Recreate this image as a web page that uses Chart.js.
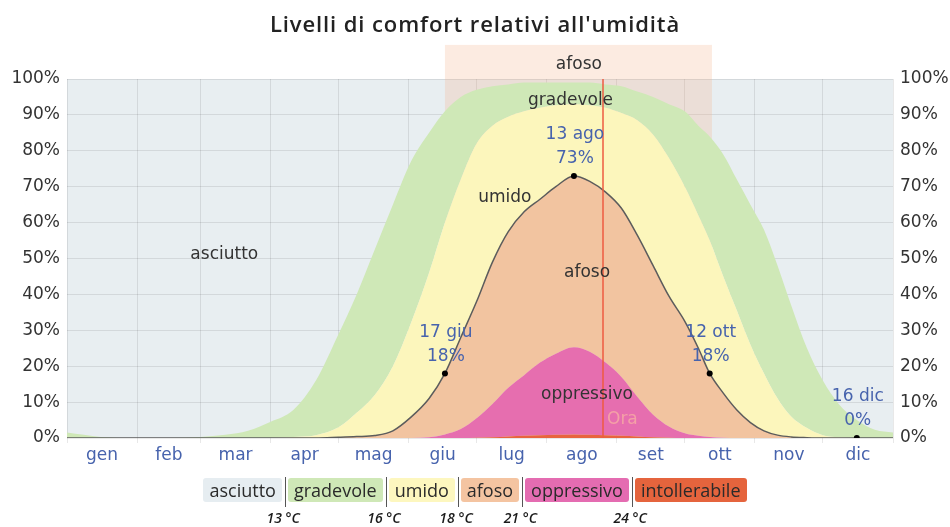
<!DOCTYPE html>
<html lang="it">
<head>
  <meta charset="UTF-8">
  <title>Livelli di comfort relativi all'umidità</title>
  <script src="https://cdn.jsdelivr.net/npm/chart.js"></script>
  <style>
    body {
      margin: 0;
      background: #fff;
    }

    .wrap {
      position: relative;
      width: 950px;
      height: 527px;
    }

    .titolo {
      position: absolute;
      top: 9px;
      left: 0;
      width: 950px;
      text-align: center;
      font-family: 'Open Sans', sans-serif;
      font-size: 22px;
      font-weight: 600;
      letter-spacing: 0.9px;
      line-height: 28px;
      color: #222;
    }

    .legenda {
      position: absolute;
      top: 478px;
      left: 0;
      width: 950px;
      display: flex;
      justify-content: center;
      align-items: flex-start;
      font-family: 'Open Sans', sans-serif;
      font-size: 18px;
      color: #2a2a2a;
    }

    .voce {
      line-height: 24px;
      padding: 0 6px;
      border-radius: 3px;
    }

    .sep {
      position: relative;
      width: 1px;
      height: 30px;
      margin: -1px 2px 0 3px;
      background: #555;
    }

    .sep i {
      position: absolute;
      top: 31px;
      left: 0;
      transform: translateX(-55%);
      font-size: 14px;
      font-weight: 600;
      white-space: nowrap;
      color: #1a1a1a;
    }
  </style>
</head>

<body>
  <div class="wrap">
    <canvas id="grafico"></canvas>
    <div class="titolo">Livelli di comfort relativi all'umidità</div>
    <div class="legenda">
      <span class="voce" style="background:#e6edf1">asciutto</span>
      <span class="sep"><i>13 °C</i></span>
      <span class="voce" style="background:#cfe8b7">gradevole</span>
      <span class="sep"><i>16 °C</i></span>
      <span class="voce" style="background:#fdf7bf">umido</span>
      <span class="sep"><i>18 °C</i></span>
      <span class="voce" style="background:#f4c4a1">afoso</span>
      <span class="sep"><i>21 °C</i></span>
      <span class="voce" style="background:#e46cb1">oppressivo</span>
      <span class="sep"><i>24 °C</i></span>
      <span class="voce" style="background:#e5643d">intollerabile</span>
    </div>
  </div>

  <script>
    // giorno dell'anno (0 = 1 gen) per ogni campione
    const giorni = [0, 15, 31, 45, 59, 70, 80, 90, 100, 110, 120, 128, 136, 144, 152, 160, 167, 174, 181, 188,
      195, 202, 209, 216, 224, 231, 238, 245, 252, 259, 266, 273, 279, 284, 290, 296, 302, 308, 314, 320,
      327, 334, 341, 349, 357, 365];

    // percentuale cumulata: quota di tempo almeno a quel livello di umidità
    const intollerabile = [0, 0, 0, 0, 0, 0, 0, 0, 0, 0, 0, 0, 0, 0, 0, 0, 0, 0, 0.1, 0.2,
      0.4, 0.6, 0.8, 0.9, 1, 0.9, 0.8, 0.6, 0.4, 0.2, 0.1, 0, 0, 0, 0, 0, 0, 0, 0, 0,
      0, 0, 0, 0, 0, 0];
    const oppressivo = [0, 0, 0, 0, 0, 0, 0, 0, 0, 0, 0, 0, 0, 0, 0, 0.2, 1, 2.5, 5.5, 9.5,
      14, 17.5, 21, 23.5, 25.3, 24, 21, 17, 11.5, 6.5, 3.2, 1.3, 0.6, 0.3, 0.1, 0, 0, 0, 0, 0,
      0, 0, 0, 0, 0, 0];
    const afoso = [0, 0, 0, 0, 0, 0, 0, 0, 0, 0, 0.2, 0.4, 0.7, 2, 5.8, 11, 18, 28, 38, 49,
      57.5, 63, 66.5, 70, 73, 71.5, 68.5, 64, 56.5, 48, 39.5, 32.5, 25, 18, 12.5, 7.8, 4.3, 2, 0.8, 0.3,
      0.1, 0, 0, 0, 0, 0];
    const umido = [0, 0, 0, 0, 0, 0, 0, 0, 0.3, 0.8, 3, 7, 12, 20, 32, 46, 60, 72, 82, 87,
      89.5, 91, 92, 92.7, 93, 92.7, 92, 90.5, 88.5, 84.5, 78, 70, 62, 55, 45, 35.5, 26, 18, 11, 6,
      2.8, 0.8, 0.2, 0, 0, 0];
    const gradevole = [1.5, 0.3, 0, 0, 0.3, 0.9, 2, 4.5, 7.8, 16, 29, 40, 52.5, 65, 77, 85, 91, 95, 97, 98,
      98.5, 99, 99, 99, 99, 99, 98.5, 98, 96.5, 95, 93, 91, 87, 84, 79, 72, 65, 58, 48, 37,
      25, 16, 9.5, 5, 2.3, 1.5];

    // punti notevoli della curva "afoso o peggio"
    const puntiGiorno = [167, 224, 284, 349];
    const puntiValore = [18, 73, 18, 0];
    const puntiData = ['17 giu', '13 ago', '12 ott', '16 dic'];

    const mesi = ['gen', 'feb', 'mar', 'apr', 'mag', 'giu', 'lug', 'ago', 'set', 'ott', 'nov', 'dic'];
    const inizioMese = [0, 31, 59, 90, 120, 151, 181, 212, 243, 273, 304, 334, 365];
    const yTicks = [0, 10, 20, 30, 40, 50, 60, 70, 80, 90, 100];

    const periodoAfoso = [167, 285];
    const oggi = 237;

    const coloreAsciutto = '#e8eef1';
    const blu = '#4763ad';
    const griglia = 'rgba(0, 0, 0, 0.09)';
    const fontAssi = { family: 'DejaVu Sans', size: 17 };

    // etichette delle zone (giorno, %)
    const etichetteZone = [
      { t: 'asciutto', x: 69.5, y: 51 },
      { t: 'gradevole', x: 222.5, y: 94 },
      { t: 'umido', x: 193.5, y: 67 },
      { t: 'afoso', x: 229.8, y: 46 },
      { t: 'oppressivo', x: 229.8, y: 12 }
    ];

    function serie(valori) {
      return giorni.map((g, i) => ({ x: g, y: valori[i] }));
    }

    function area(label, valori, colore, fill) {
      return {
        label: label,
        data: serie(valori),
        backgroundColor: colore,
        borderWidth: 0,
        pointRadius: 0,
        fill: fill,
        cubicInterpolationMode: 'monotone'
      };
    }

    const datasets = [
      area('intollerabile', intollerabile, '#e8643e', 'origin'),
      area('oppressivo', oppressivo, '#e66eaf', '-1'),
      area('afoso', afoso, '#f2c4a0', '-1'),
      area('umido', umido, '#fcf6bc', '-1'),
      area('gradevole', gradevole, '#cfe8b7', '-1'),
      {
        label: 'punti',
        data: puntiGiorno.map((g, i) => ({ x: g, y: puntiValore[i] })),
        showLine: false,
        pointRadius: 3,
        pointBackgroundColor: '#000',
        pointBorderWidth: 0,
        order: -1
      }
    ];
    // la linea nera segue il bordo superiore di "afoso"
    datasets[2].borderColor = '#5c5c5c';
    datasets[2].borderWidth = 1.5;

    function scrivi(ctx, testo, x, y, colore, align) {
      ctx.fillStyle = colore;
      ctx.textAlign = align || 'center';
      ctx.textBaseline = 'middle';
      ctx.fillText(testo, x, y);
    }

    const decorazioni = {
      id: 'decorazioni',
      beforeDraw(chart) {
        const { ctx, chartArea: a } = chart;
        ctx.save();
        ctx.fillStyle = coloreAsciutto;
        ctx.fillRect(a.left, a.top, a.width, a.height);
        ctx.restore();
      },
      beforeDatasetsDraw(chart) {
        const { ctx, chartArea: a, scales: { x, y } } = chart;
        const x0 = x.getPixelForValue(periodoAfoso[0]);
        const x1 = x.getPixelForValue(periodoAfoso[1]);
        const top = y.getPixelForValue(109.5);
        ctx.save();
        ctx.fillStyle = 'rgba(243, 180, 145, 0.27)';
        ctx.fillRect(x0, top, x1 - x0, a.bottom - top);
        ctx.restore();
      },
      afterDraw(chart) {
        const { ctx, chartArea: a, scales: { x, y } } = chart;
        ctx.save();
        ctx.font = "17px 'DejaVu Sans'";

        // linea di oggi
        const xo = Math.round(x.getPixelForValue(oggi));
        ctx.strokeStyle = '#ee5b40';
        ctx.lineWidth = 1.5;
        ctx.beginPath();
        ctx.moveTo(xo, a.top);
        ctx.lineTo(xo, a.bottom);
        ctx.stroke();
        scrivi(ctx, 'Ora', xo + 4, y.getPixelForValue(5), '#f4a1a6', 'left');

        etichetteZone.forEach(e => {
          scrivi(ctx, e.t, x.getPixelForValue(e.x), y.getPixelForValue(e.y), '#333');
        });
        scrivi(ctx, 'afoso', x.getPixelForValue(226.2), y.getPixelForValue(103.9), '#333');

        puntiGiorno.forEach((g, i) => {
          const px = x.getPixelForValue(g);
          const py = y.getPixelForValue(puntiValore[i]);
          scrivi(ctx, puntiValore[i] + '%', px + 1, py - 17, blu);
          scrivi(ctx, puntiData[i], px + 1, py - 41, blu);
        });
        ctx.restore();
      }
    };

    new Chart(document.getElementById('grafico'), {
      type: 'line',
      data: { datasets: datasets },
      options: {
        responsive: true,
        maintainAspectRatio: false,
        animation: false,
        layout: { padding: { top: 79 } },
        plugins: {
          legend: { display: false },
          tooltip: { enabled: false }
        },
        scales: {
          x: {
            type: 'linear',
            min: 0,
            max: 365,
            z: 1,
            afterBuildTicks: axis => {
              const t = [];
              inizioMese.forEach((d, i) => {
                t.push({ value: d });
                if (i < 12) t.push({ value: (d + inizioMese[i + 1]) / 2, mese: i });
              });
              axis.ticks = t;
            },
            afterFit: s => { s.height = 89; },
            ticks: {
              autoSkip: false,
              maxRotation: 0,
              padding: 2,
              color: blu,
              font: fontAssi,
              callback: (v, i, ticks) => ticks[i].mese !== undefined ? mesi[ticks[i].mese] : ''
            },
            grid: {
              tickLength: 5,
              color: c => c.tick && c.tick.mese === undefined ? griglia : 'transparent'
            },
            border: { display: false }
          },
          y: {
            min: 0,
            max: 100,
            z: 1,
            afterBuildTicks: axis => { axis.ticks = yTicks.map(v => ({ value: v })); },
            afterFit: s => { s.width = 67; },
            ticks: { padding: 7, color: '#333', font: fontAssi, callback: v => v + '%' },
            grid: { color: griglia, drawTicks: false },
            border: { display: false }
          },
          y2: {
            position: 'right',
            min: 0,
            max: 100,
            z: 1,
            afterBuildTicks: axis => { axis.ticks = yTicks.map(v => ({ value: v })); },
            afterFit: s => { s.width = 57; },
            ticks: { padding: 7, color: '#333', font: fontAssi, callback: v => v + '%' },
            grid: { display: false, drawTicks: false },
            border: { display: false }
          }
        }
      },
      plugins: [decorazioni]
    });
  </script>
</body>
</html>
